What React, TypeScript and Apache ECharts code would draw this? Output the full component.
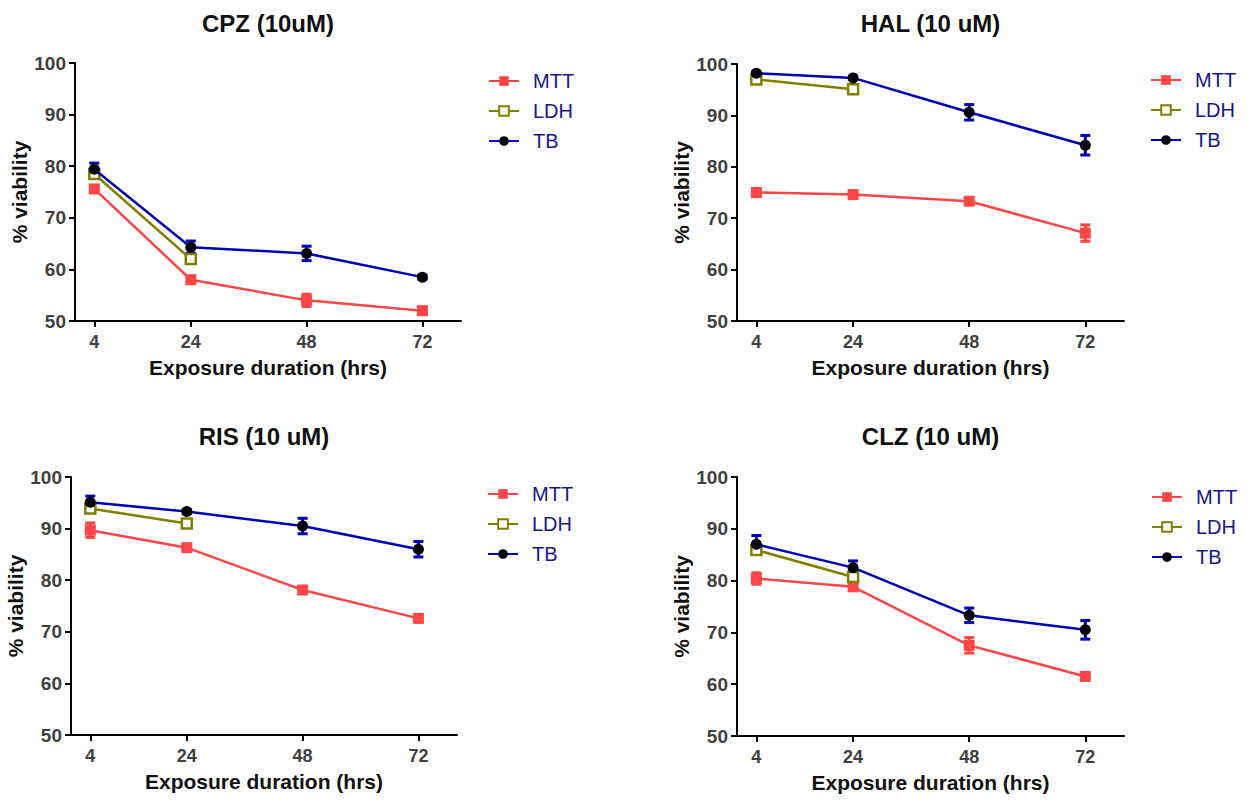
import React, { useEffect, useRef } from "react";
import * as echarts from "echarts";

const hours = [4, 24, 48, 72];
const xTickValues = [4, 24, 48, 72];
const panelTitles = ["CPZ (10uM)", "HAL (10 uM)", "RIS (10 uM)", "CLZ (10 uM)"];
const seriesNames = ["MTT", "LDH", "TB"];
const xAxisName = "Exposure duration (hrs)";
const yAxisName = "% viability";

// CPZ
const cpzMTT = [75.6, 58.0, 54.0, 52.0];
const cpzMTTErr = [0.5, 0.5, 1.2, 0.4];
const cpzLDH = [78.5, 62.0];
const cpzTB = [79.4, 64.3, 63.1, 58.5];
const cpzTBErr = [1.2, 1.2, 1.4, 0.4];
// HAL
const halMTT = [75.0, 74.6, 73.3, 67.1];
const halMTTErr = [0.3, 0.3, 0.4, 1.6];
const halLDH = [97.0, 95.1];
const halTB = [98.2, 97.3, 90.6, 84.2];
const halTBErr = [0.3, 0.3, 1.5, 1.9];
// RIS
const risMTT = [89.7, 86.3, 78.1, 72.6];
const risMTTErr = [1.4, 0.4, 0.4, 0.4];
const risLDH = [93.9, 91.0];
const risTB = [95.1, 93.3, 90.5, 86.0];
const risTBErr = [1.2, 0.4, 1.5, 1.5];
// CLZ
const clzMTT = [80.4, 78.8, 67.5, 61.5];
const clzMTTErr = [1.1, 0.6, 1.5, 0.4];
const clzLDH = [85.9, 80.7];
const clzTB = [87.0, 82.5, 73.3, 70.5];
const clzTBErr = [1.7, 1.3, 1.4, 1.8];

const panels = [
  { mtt: cpzMTT, mttErr: cpzMTTErr, ldh: cpzLDH, tb: cpzTB, tbErr: cpzTBErr },
  { mtt: halMTT, mttErr: halMTTErr, ldh: halLDH, tb: halTB, tbErr: halTBErr },
  { mtt: risMTT, mttErr: risMTTErr, ldh: risLDH, tb: risTB, tbErr: risTBErr },
  { mtt: clzMTT, mttErr: clzMTTErr, ldh: clzLDH, tb: clzTB, tbErr: clzTBErr },
];

const FONT = "'Liberation Sans', Arial, sans-serif";
const RED = "#ff4646";
const OLIVE = "#808000";
const BLUE = "#0000b4";

const grids = [
  { left: 75, top: 63, width: 386, height: 258 },
  { left: 737, top: 64, width: 387, height: 257 },
  { left: 71, top: 477, width: 386, height: 258 },
  { left: 737, top: 477, width: 387, height: 259 },
];
const legendPos = [
  { left: 488, top: 71 },
  { left: 1150, top: 70 },
  { left: 487, top: 484 },
  { left: 1151, top: 487 },
];

function errSeries(i: number, vals: number[], errs: number[], color: string) {
  return {
    type: "custom",
    name: "err" + i + color,
    xAxisIndex: i,
    yAxisIndex: i,
    z: 2,
    encode: { x: 0, y: [1, 2] },
    data: vals.map((v, k) => [hours[k], v - errs[k], v + errs[k]]),
    renderItem: (params: any, api: any) => {
      const x = api.value(0);
      const lo = api.value(1);
      const hi = api.value(2);
      const a = api.coord([x, hi]);
      const b = api.coord([x, lo]);
      const w = 5;
      const style = { stroke: color, lineWidth: 3 };
      return {
        type: "group",
        children: [
          { type: "line", shape: { x1: a[0], y1: a[1], x2: b[0], y2: b[1] }, style },
          { type: "line", shape: { x1: a[0] - w, y1: a[1], x2: a[0] + w, y2: a[1] }, style },
          { type: "line", shape: { x1: b[0] - w, y1: b[1], x2: b[0] + w, y2: b[1] }, style },
        ],
      };
    },
  };
}

export default function App() {
  const ref = useRef<HTMLDivElement>(null);
  useEffect(() => {
    document.body.style.margin = "0";
    const chart = echarts.init(ref.current!, null, { renderer: "svg" });
    const series: any[] = [];
    panels.forEach((p, i) => {
      series.push(errSeries(i, p.mtt, p.mttErr, RED));
      series.push(errSeries(i, p.tb, p.tbErr, BLUE));
      series.push({
        type: "line",
        name: seriesNames[0],
        xAxisIndex: i,
        yAxisIndex: i,
        z: 3,
        data: p.mtt.map((v, k) => [hours[k], v]),
        symbol: "rect",
        symbolSize: 11,
        itemStyle: { color: RED },
        lineStyle: { color: RED, width: 2.5 },
      });
      series.push({
        type: "line",
        name: seriesNames[1],
        xAxisIndex: i,
        yAxisIndex: i,
        z: 4,
        data: p.ldh.map((v, k) => [hours[k], v]),
        symbol: "rect",
        symbolSize: 10,
        itemStyle: { color: "#ffffff", borderColor: OLIVE, borderWidth: 2.5 },
        lineStyle: { color: OLIVE, width: 2.5 },
      });
      series.push({
        type: "line",
        name: seriesNames[2],
        xAxisIndex: i,
        yAxisIndex: i,
        z: 5,
        data: p.tb.map((v, k) => [hours[k], v]),
        symbol: "circle",
        symbolSize: 11,
        itemStyle: { color: "#000000" },
        lineStyle: { color: BLUE, width: 2.5 },
      });
    });

    const option: any = {
      animation: false,
      backgroundColor: "#ffffff",
      textStyle: { fontFamily: FONT },
      title: panelTitles.map((t, i) => ({
        text: t,
        left: grids[i].left + grids[i].width / 2,
        top: i < 2 ? 11 : 424,
        textAlign: "center",
        padding: 0,
        textStyle: { fontSize: 24, fontWeight: "bold", color: "#111", fontFamily: FONT },
      })),
      grid: grids.map((g) => ({ ...g, containLabel: false })),
      legend: legendPos.map((lp) => ({
        orient: "vertical",
        left: lp.left,
        top: lp.top,
        itemWidth: 30,
        itemHeight: 12,
        itemGap: 10,
        padding: 0,
        data: seriesNames,
        selectedMode: false,
        textStyle: {
          fontSize: 20,
          lineHeight: 20,
          color: "#16168a",
          fontFamily: FONT,
          padding: [0, 0, 0, 9],
        },
      })),
      xAxis: grids.map((g, i) => ({
        type: "value",
        gridIndex: i,
        min: 0,
        max: 80,
        name: xAxisName,
        nameLocation: "middle",
        nameGap: 36,
        nameTextStyle: { fontSize: 21, fontWeight: "bold", color: "#111", fontFamily: FONT },
        axisLine: { show: true, onZero: false, lineStyle: { color: "#000", width: 2 } },
        axisTick: { show: true, customValues: xTickValues, length: 6, lineStyle: { color: "#000", width: 2 } },
        axisLabel: {
          customValues: xTickValues,
          fontSize: 18,
          fontWeight: "bold",
          color: "#404040",
          margin: 12,
          fontFamily: FONT,
        },
        splitLine: { show: false },
      })),
      yAxis: grids.map((g, i) => ({
        type: "value",
        gridIndex: i,
        min: 50,
        max: 100,
        interval: 10,
        name: yAxisName,
        nameLocation: "middle",
        nameGap: 42,
        nameTextStyle: { fontSize: 21, fontWeight: "bold", color: "#111", fontFamily: FONT },
        axisLine: { show: true, onZero: false, lineStyle: { color: "#000", width: 2 } },
        axisTick: { show: true, length: 6, lineStyle: { color: "#000", width: 2 } },
        axisLabel: { fontSize: 19, fontWeight: "bold", color: "#404040", margin: 9, fontFamily: FONT },
        splitLine: { show: false },
      })),
      series,
    };
    chart.setOption(option);
    return () => chart.dispose();
  }, []);
  return (
    <div
      ref={ref}
      style={{ position: "absolute", left: 0, top: 0, width: 1251, height: 801 }}
    />
  );
}
